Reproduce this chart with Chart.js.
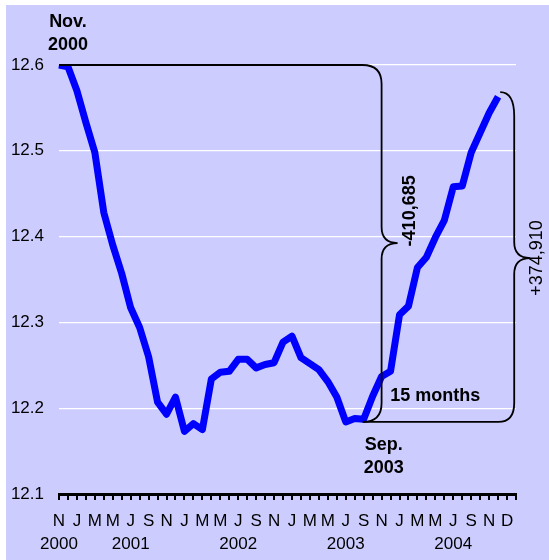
<!DOCTYPE html>
<html>
<head>
<meta charset="utf-8">
<script src="https://cdn.jsdelivr.net/npm/chart.js@4/dist/chart.umd.min.js"></script>
<style>
html, body { margin: 0; padding: 0; background: #fff; }
#wrap { position: absolute; left: 6px; top: 5px; width: 543px; height: 555px; background: #ccccff; }
</style>
</head>
<body>
<div id="wrap"><canvas id="myChart" width="543" height="555"></canvas></div>
<script>
'use strict';

// monthly series, Nov 2000 .. Dec 2004 (millions)
const values = [
    12.600, 12.598, 12.570, 12.533, 12.498, 12.428, 12.390, 12.357, 12.317, 12.294,
    12.260, 12.207, 12.193, 12.213, 12.173, 12.182, 12.175, 12.234, 12.242, 12.243,
    12.257, 12.257, 12.247, 12.251, 12.253, 12.277, 12.284, 12.259, 12.252, 12.245,
    12.231, 12.213, 12.184, 12.188, 12.187, 12.214, 12.237, 12.243, 12.309, 12.319,
    12.364, 12.376, 12.399, 12.419, 12.458, 12.459, 12.498, 12.521, 12.544, 12.563
];

// tick labels, one every second month starting Nov 2000
const monthTicks = ['N', 'J', 'M', 'M', 'J', 'S', 'N', 'J', 'M', 'M', 'J', 'S', 'N',
    'J', 'M', 'M', 'J', 'S', 'N', 'J', 'M', 'M', 'J', 'S', 'N', 'D'];
const yearTicks = ['2000', '', '', '', '2001', '', '', '', '', '', '2002', '', '',
    '', '', '', '2003', '', '', '', '', '', '2004', '', '', ''];

const monthNames = ['Jan', 'Feb', 'Mar', 'Apr', 'May', 'Jun', 'Jul', 'Aug', 'Sep', 'Oct', 'Nov', 'Dec'];
const labels = [];
for (let i = 0; i < 52; ++i) {
    const m = (10 + i) % 12;
    const y = 2000 + Math.floor((10 + i) / 12);
    labels.push(monthNames[m] + ' ' + y);
}

// annotation values
const startIdx = 0, lowIdx = 34;
const startVal = 12.6, lowVal = 12.184, endVal = 12.5685;

Chart.defaults.font.family = '"Liberation Sans", Arial, sans-serif';
Chart.defaults.color = '#000';

const braces = {
    id: 'braces',
    afterDatasetsDraw(chart) {
        const ctx = chart.ctx;
        const x = chart.scales.x, y = chart.scales.y;
        const yTop = y.getPixelForValue(startVal);
        const yLow = y.getPixelForValue(lowVal);
        const yEnd = y.getPixelForValue(endVal);
        const xs1 = x.getPixelForValue(36);
        const xs2 = x.getPixelForValue(50.8);
        const r = 19, tw = 16, tr = 16;
        ctx.save();
        ctx.strokeStyle = '#000';
        ctx.lineWidth = 1.8;

        // decline brace
        let yt = y.getPixelForValue(12.3925);
        ctx.beginPath();
        ctx.moveTo(x.getPixelForValue(startIdx), yTop);
        ctx.lineTo(xs1 - r, yTop);
        ctx.quadraticCurveTo(xs1, yTop, xs1, yTop + r);
        ctx.lineTo(xs1, yt - tr);
        ctx.quadraticCurveTo(xs1, yt, xs1 + tw, yt);
        ctx.quadraticCurveTo(xs1, yt, xs1, yt + tr);
        ctx.lineTo(xs1, yLow - r);
        ctx.quadraticCurveTo(xs1, yLow, xs1 - r, yLow);
        ctx.stroke();

        // recovery brace
        yt = y.getPixelForValue(12.375);
        ctx.beginPath();
        ctx.moveTo(x.getPixelForValue(lowIdx), yLow);
        ctx.lineTo(xs2 - r + 3, yLow);
        ctx.quadraticCurveTo(xs2, yLow, xs2, yLow - r);
        ctx.lineTo(xs2, yt + tr);
        ctx.quadraticCurveTo(xs2, yt, xs2 + tw, yt);
        ctx.quadraticCurveTo(xs2, yt, xs2, yt - tr);
        ctx.lineTo(xs2, yEnd + 24);
        ctx.quadraticCurveTo(xs2, yEnd, xs2 - 14, yEnd);
        ctx.stroke();

        ctx.textAlign = 'center';
        ctx.textBaseline = 'middle';
        ctx.font = 'bold 18px "Liberation Sans", Arial, sans-serif';
        const xn = x.getPixelForValue(1);
        ctx.fillText('Nov.', xn, yTop - 43);
        ctx.fillText('2000', xn, yTop - 20);
        const xsp = x.getPixelForValue(lowIdx) + 20;
        ctx.fillText('Sep.', xsp, yLow + 23);
        ctx.fillText('2003', xsp, yLow + 46);
        ctx.fillText('15 months', x.getPixelForValue(42), yLow - 26);

        ctx.save();
        ctx.translate(xs1 + 28, y.getPixelForValue(12.43));
        ctx.rotate(-Math.PI / 2);
        ctx.fillText('-410,685', 0, 0);
        ctx.restore();

        ctx.font = '18px "Liberation Sans", Arial, sans-serif';
        ctx.save();
        ctx.translate(xs2 + 23, y.getPixelForValue(12.375));
        ctx.rotate(-Math.PI / 2);
        ctx.fillText('+374,910', 0, 0);
        ctx.restore();
        ctx.restore();
    }
};

const ctx = document.getElementById('myChart').getContext('2d');
const myChart = new Chart(ctx, {
    type: 'line',
    data: {
        labels: labels,
        datasets: [{
            data: values,
            borderColor: '#0000ff',
            borderWidth: 7,
            borderJoinStyle: 'round',
            pointRadius: 0,
            tension: 0,
            fill: false
        }]
    },
    options: {
        responsive: false,
        animation: false,
        layout: { padding: { top: 60, right: 33, left: 0, bottom: 0 } },
        plugins: {
            legend: { display: false },
            tooltip: { enabled: false }
        },
        scales: {
            x: {
                offset: false,
                afterFit: (s) => { s.height = 66; },
                grid: {
                    drawOnChartArea: false,
                    drawTicks: true,
                    tickLength: 6,
                    color: '#000',
                    lineWidth: 2
                },
                border: { display: true, color: '#000', width: 3 },
                ticks: {
                    autoSkip: false,
                    maxRotation: 0,
                    padding: 10,
                    font: { size: 17, lineHeight: 23 / 17 },
                    callback: (v, i) => {
                        if (i % 2) return '';
                        const k = i / 2;
                        return [monthTicks[k] || '', yearTicks[k] || ''];
                    }
                }
            },
            y: {
                min: 12.1,
                max: 12.6,
                afterFit: (s) => { s.width = 53; },
                grid: {
                    drawTicks: false,
                    lineWidth: 1.2,
                    color: (c) => Math.abs(c.tick.value - 12.1) < 1e-6 ? 'rgba(0,0,0,0)' : '#ffffff'
                },
                border: { display: false },
                ticks: {
                    stepSize: 0.1,
                    padding: 15,
                    font: { size: 17 },
                    callback: (v) => v.toFixed(1)
                }
            }
        }
    },
    plugins: [braces]
});
</script>
</body>
</html>
